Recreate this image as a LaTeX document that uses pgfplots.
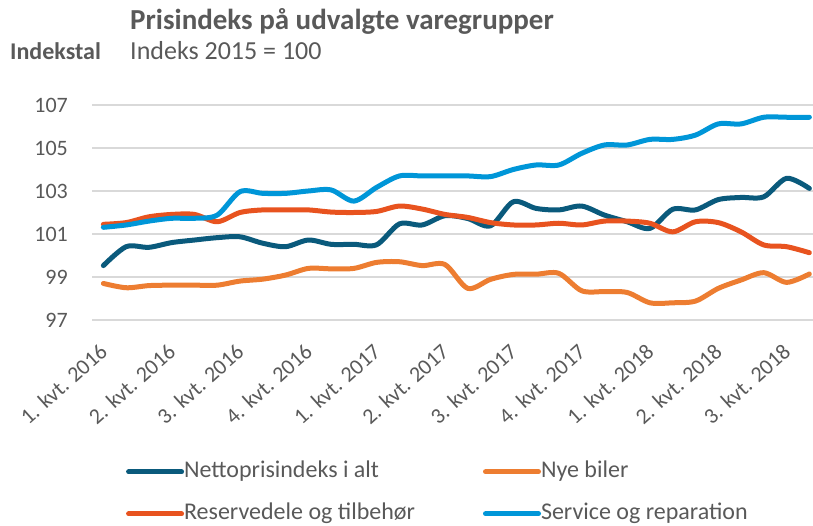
\documentclass[border=0pt]{standalone}
\usepackage{fontspec}
\setmainfont{Carlito}
\usepackage{pgfplots}
\usepackage{pgfplotstable}
\pgfplotsset{compat=1.18}
\definecolor{netto}{HTML}{0A5A7C}
\definecolor{nye}{HTML}{ED7D31}
\definecolor{reserv}{HTML}{E8531F}
\definecolor{service}{HTML}{0096D8}
\definecolor{gridgray}{HTML}{D9D9D9}
\definecolor{txtgray}{HTML}{595959}

\pgfplotstableread{
i netto nye reserv service
0 99.53 98.70 101.45 101.31
1 100.41 98.50 101.53 101.42
2 100.38 98.60 101.80 101.60
3 100.60 98.62 101.91 101.73
4 100.72 98.62 101.91 101.73
5 100.83 98.62 101.57 101.88
6 100.87 98.81 102.00 102.97
7 100.57 98.90 102.12 102.89
8 100.41 99.09 102.12 102.89
9 100.72 99.40 102.12 103.00
10 100.52 99.38 102.02 103.05
11 100.52 99.40 102.00 102.53
12 100.50 99.68 102.05 103.17
13 101.47 99.71 102.30 103.70
14 101.42 99.53 102.16 103.70
15 101.85 99.58 101.91 103.70
16 101.72 98.47 101.77 103.70
17 101.38 98.89 101.53 103.67
18 102.50 99.12 101.42 104.00
19 102.19 99.13 101.42 104.21
20 102.12 99.17 101.50 104.21
21 102.30 98.36 101.42 104.75
22 101.88 98.32 101.60 105.14
23 101.57 98.28 101.60 105.14
24 101.26 97.80 101.50 105.40
25 102.15 97.80 101.10 105.40
26 102.12 97.88 101.57 105.60
27 102.60 98.47 101.53 106.12
28 102.70 98.86 101.10 106.12
29 102.73 99.20 100.49 106.43
30 103.59 98.75 100.41 106.43
31 103.12 99.14 100.13 106.43
}\datatable

\begin{document}
\begin{tikzpicture}
\begin{axis}[
  at={(0pt,0pt)}, anchor=south west,
  scale only axis, width=721pt, height=215pt,
  xmin=-0.5, xmax=31.16, ymin=97, ymax=107,
  axis line style={draw=none},
  major tick length=0pt,
  ytick={97,99,...,107},
  xtick={0,3,...,30},
  xticklabels={1. kvt. 2016,2. kvt. 2016,3. kvt. 2016,4. kvt. 2016,1. kvt. 2017,2. kvt. 2017,3. kvt. 2017,4. kvt. 2017,1. kvt. 2018,2. kvt. 2018,3. kvt. 2018},
  ymajorgrids,
  grid style={draw=gridgray, line width=1.5pt},
  /pgf/number format/assume math mode=true,
  tick label style={font=\fontsize{22}{26}\selectfont, text=txtgray},
  yticklabel style={anchor=east, inner sep=0pt, xshift=-24pt},
  xticklabel style={inner sep=0pt, anchor=north east, xshift=-5pt, yshift=-22pt, rotate=42},
  legend columns=2,
  legend cell align=left,
  legend image code/.code={\draw[#1, line width=5pt, line cap=round] (0pt,0pt) -- (53pt,0pt);},
  legend style={at={(0.047,-0.652)}, anchor=north west, draw=none, fill=none,
    inner sep=0pt, font=\fontsize{24}{28}\selectfont, text=txtgray,
    row sep=19pt,
    nodes={inner sep=0pt, text height=17pt, text depth=6pt},
    /tikz/column 2/.style={inner xsep=2pt, column sep=68pt},
    /tikz/column 4/.style={inner xsep=2pt}},
  every axis plot/.append style={line width=5pt, smooth, tension=0.5, line cap=round, line join=round},
]
\addplot[netto] table[x=i, y=netto] {\datatable};
\addlegendentry{Nettoprisindeks i alt}
\addplot[nye] table[x=i, y=nye] {\datatable};
\addlegendentry{Nye biler}
\addplot[reserv] table[x=i, y=reserv] {\datatable};
\addlegendentry{Reservedele og tilbehør}
\addplot[service] table[x=i, y=service] {\datatable};
\addlegendentry{Service og reparation}
\end{axis}
\node[anchor=base west, inner sep=0pt, text=txtgray, font=\fontsize{29}{33}\selectfont\bfseries] at (38pt,290.5pt) {Prisindeks på udvalgte varegrupper};
\node[anchor=base west, inner sep=0pt, text=txtgray, font=\fontsize{26}{30}\selectfont] at (38pt,260pt) {Indeks 2015 = 100};
\node[anchor=base west, inner sep=0pt, text=txtgray, font=\fontsize{24}{28}\selectfont\bfseries] at (-82pt,260pt) {Indekstal};
\pgfresetboundingbox
\path[use as bounding box] (-92pt,-206pt) rectangle (721pt,320pt);
\end{tikzpicture}
\end{document}
